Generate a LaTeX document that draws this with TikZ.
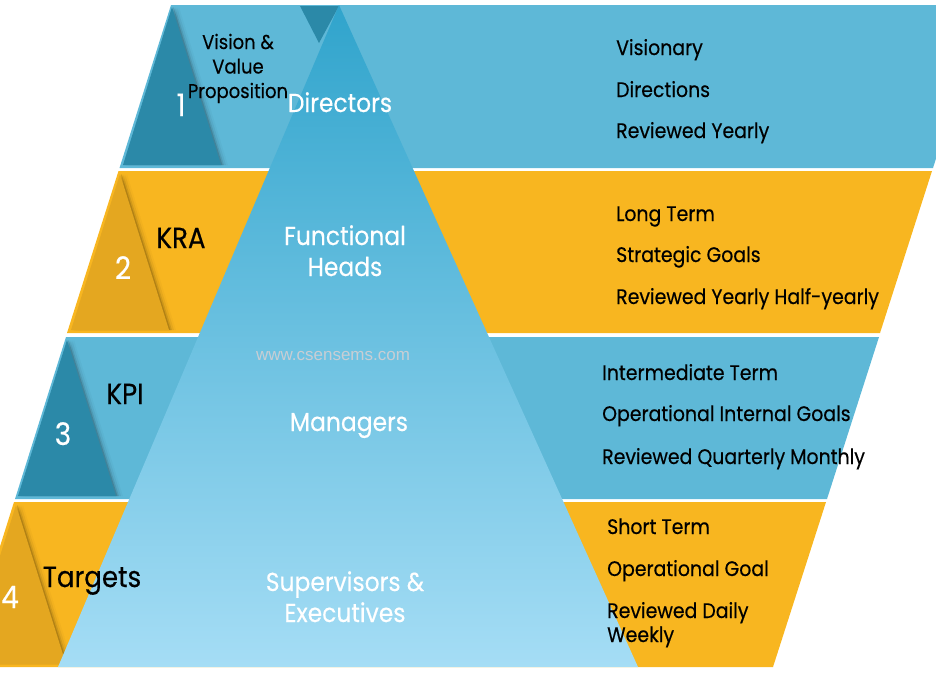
\documentclass[tikz,border=0pt]{standalone}
\usepackage{fontspec}
\setmainfont{Poppins}[FakeStretch=0.9,FakeBold=0.35]
\newfontfamily\wmfont{Liberation Sans}
\definecolor{bandblue}{RGB}{94,184,215}
\definecolor{bandorange}{RGB}{248,182,32}
\definecolor{darkorange}{RGB}{228,167,32}
\definecolor{darkteal}{RGB}{43,137,168}
\definecolor{pyrtop}{RGB}{48,164,204}
\definecolor{pyrbottom}{RGB}{165,221,245}
\definecolor{wmgray}{RGB}{200,206,212}
\tikzset{
  rtext/.style={anchor=base west, font=\fontsize{21}{24}\selectfont, text=black, inner sep=0pt, align=left},
  wlabel/.style={anchor=base, font=\fontsize{26}{31}\selectfont, text=white, inner sep=0pt, align=center},
  blabel/.style={anchor=base, font=\fontsize{29}{34}\selectfont, text=black, inner sep=0pt},
  vlabel/.style={anchor=base, font=\fontsize{20}{24.5}\selectfont, text=black, inner sep=0pt, align=center},
  numlabel/.style={anchor=base, font=\fontsize{31}{36}\selectfont, text=white, inner sep=0pt},
}
\begin{document}
\begin{tikzpicture}[x=1pt,y=-1pt]
\useasboundingbox (0,0) rectangle (936,672);
\begin{scope}
\clip (0,0) rectangle (936,672);
% bands
\fill[bandblue]   (171,5) -- (985,5) -- (933,168) -- (119.5,168) -- cycle;
\fill[bandorange] (118.5,171) -- (932,171) -- (880,333) -- (67,333) -- cycle;
\fill[bandblue]   (66,337) -- (879,337) -- (827,499) -- (15,499) -- cycle;
\fill[bandorange] (14,502) -- (826,502) -- (773,667) -- (-38,667) -- cycle;
% triangle shadows
\foreach \s/\o in {1.5/0.14,3/0.09,5/0.05,7/0.025}{
  \fill[black, opacity=\o] (172+\s,7) -- (123+\s,165) -- (221+\s,165) -- cycle;
  \fill[black, opacity=\o] (120+\s,174) -- (71+\s,330) -- (169+\s,330) -- cycle;
  \fill[black, opacity=\o] (67+\s,340) -- (18+\s,496) -- (116+\s,496) -- cycle;
  \fill[black, opacity=\o] (16+\s,505) -- (-34+\s,664) -- (66+\s,664) -- cycle;
}
% small triangles
\fill[darkteal]   (172,7) -- (123,165) -- (221,165) -- cycle;
\fill[darkorange] (120,174) -- (71,330) -- (169,330) -- cycle;
\fill[darkteal]   (67,340) -- (18,496) -- (116,496) -- cycle;
\fill[darkorange] (16,505) -- (-34,664) -- (66,664) -- cycle;
% inverted triangle at top
\fill[darkteal] (300,6) -- (339,6) -- (319,43) -- cycle;
% pyramid
\shade[top color=pyrtop, bottom color=pyrbottom] (339,5) -- (638,667) -- (58,667) -- cycle;
\end{scope}
% watermark
\node[anchor=base, font=\wmfont\fontsize{17}{20}\selectfont, text=wmgray, inner sep=0pt] (wm) at (333,360) {www.csensems.com};
% left labels
\node[vlabel] (vision) at (238,98) {Vision \&\\Value\\Proposition};
\node[numlabel] (n1) at (181,116) {1};
\node[blabel] (kra) at (181,248) {KRA};
\node[numlabel] (n2) at (123,279) {2};
\node[blabel] (kpi) at (125,404) {KPI};
\node[numlabel] (n3) at (63,445) {3};
\node[blabel] (targets) at (92,587) {Targets};
\node[numlabel] (n4) at (10,608) {4};
% pyramid labels
\node[wlabel] (dir) at (340,112) {Directors};
\node[wlabel] (fh) at (345,276) {Functional\\Heads};
\node[wlabel] (mgr) at (349,431) {Managers};
\node[wlabel] (sup) at (345,622) {Supervisors \&\\Executives};
% right texts
\node[rtext] (r11) at (616,55) {Visionary};
\node[rtext] (r12) at (616,97) {Directions};
\node[rtext] (r13) at (616,138) {Reviewed Yearly};
\node[rtext] (r21) at (616,221) {Long Term};
\node[rtext] (r22) at (616,262) {Strategic Goals};
\node[rtext] (r23) at (616,304) {Reviewed Yearly Half-yearly};
\node[rtext] (r31) at (602,380) {Intermediate Term};
\node[rtext] (r32) at (602,421) {Operational Internal Goals};
\node[rtext] (r33) at (602,464) {Reviewed Quarterly Monthly};
\node[rtext] (r41) at (607,534) {Short Term};
\node[rtext] (r42) at (607,576) {Operational Goal};
\node[rtext] (r43) at (607,642) {Reviewed Daily\\Weekly};
\end{tikzpicture}
\end{document}
